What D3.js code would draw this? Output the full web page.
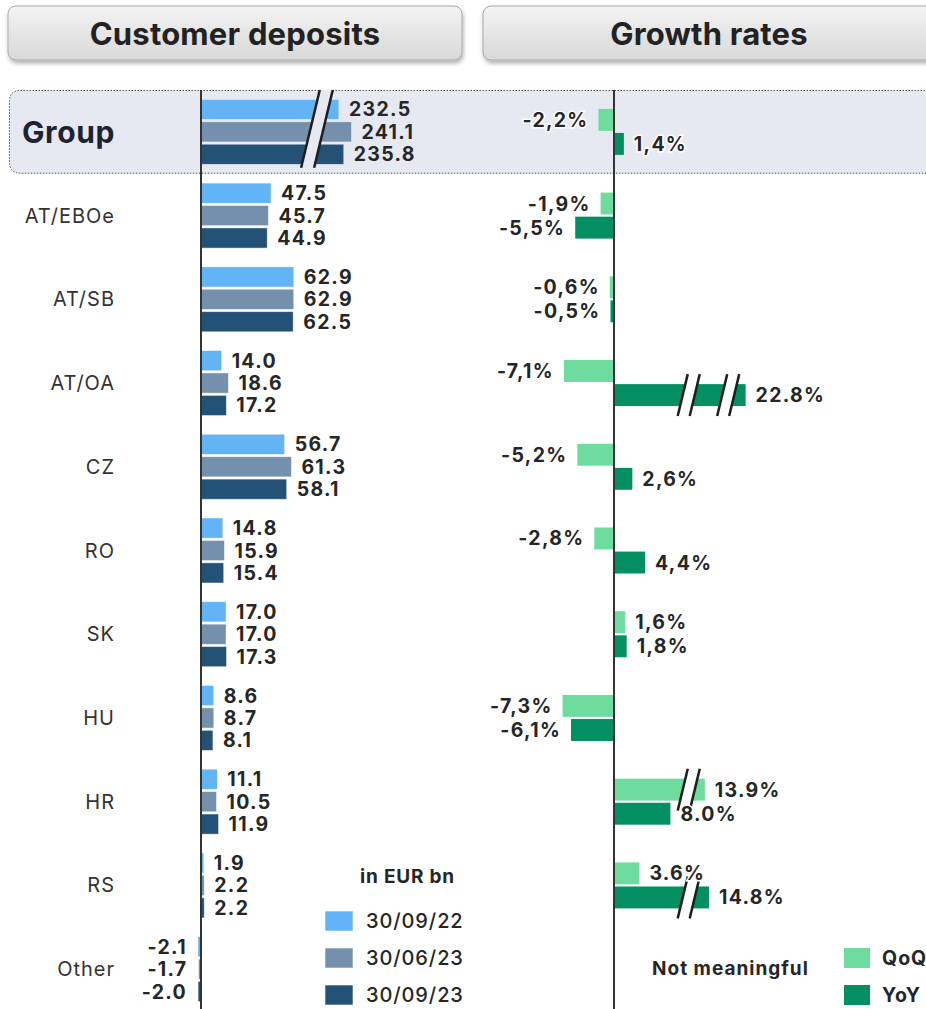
<!DOCTYPE html>
<html><head><meta charset="utf-8">
<script src="https://cdn.jsdelivr.net/npm/d3@7"></script>
<style>
html,body{margin:0;padding:0;background:#fff;}
svg{display:block;font-family:Inter,"Noto Sans",sans-serif;}
</style></head>
<body><svg id="c" width="926" height="1009"></svg>
<script>
const categories = ["Group","AT/EBOe","AT/SB","AT/OA","CZ","RO","SK","HU","HR","RS","Other"];
const seriesNames = ["30/09/22","30/06/23","30/09/23"];
const dep2209 = [232.5,47.5,62.9,14.0,56.7,14.8,17.0,8.6,11.1,1.9,-2.1];
const dep2306 = [241.1,45.7,62.9,18.6,61.3,15.9,17.0,8.7,10.5,2.2,-1.7];
const dep2309 = [235.8,44.9,62.5,17.2,58.1,15.4,17.3,8.1,11.9,2.2,-2.0];
const growthNames = ["QoQ","YoY"];
const qoq = [-2.2,-1.9,-0.6,-7.1,-5.2,-2.8,1.6,-7.3,13.9,3.6,null];
const yoy = [1.4,-5.5,-0.5,22.8,2.6,4.4,1.8,-6.1,8.0,14.8,null];
const qoqLabels = ["-2,2%","-1,9%","-0,6%","-7,1%","-5,2%","-2,8%","1,6%","-7,3%","13.9%","3.6%",null];
const yoyLabels = ["1,4%","-5,5%","-0,5%","22.8%","2,6%","4,4%","1,8%","-6,1%","8.0%","14.8%",null];

const depColors = ["#63b3f7","#7590ac","#245277"];
const grColors = ["#6edb9f","#038f61"];
const groupBg = "#e6e9f1";
const textCol = "#262626";

const svg = d3.select("#c");
const defs = svg.append("defs");
const grad = defs.append("linearGradient").attr("id","hdr").attr("x1",0).attr("y1",0).attr("x2",0).attr("y2",1);
grad.append("stop").attr("offset","0%").attr("stop-color","#f3f3f3");
grad.append("stop").attr("offset","100%").attr("stop-color","#d8d8d8");
const sh = defs.append("filter").attr("id","sh").attr("x","-5%").attr("y","-20%").attr("width","110%").attr("height","150%");
sh.append("feDropShadow").attr("dx",1).attr("dy",3).attr("stdDeviation",2).attr("flood-color","#000").attr("flood-opacity",0.3);

// headers
const headers = [{t:"Customer deposits",x:8,w:454,cx:235},{t:"Growth rates",x:483,w:460,cx:709}];
headers.forEach(h=>{
  svg.append("rect").attr("x",h.x).attr("y",6).attr("width",h.w).attr("height",54).attr("rx",8)
    .attr("fill","url(#hdr)").attr("stroke","#a9a9a9").attr("stroke-width",1).attr("filter","url(#sh)");
  svg.append("text").attr("x",h.cx).attr("y",33).attr("text-anchor","middle").attr("dominant-baseline","central")
    .attr("font-size",31).attr("font-weight",700).attr("letter-spacing",0.2).attr("fill","#222").text(h.t);
});

// scales
const y = d3.scaleBand().domain(categories).range([90,1011]);
const depSub = d3.scaleBand().domain(d3.range(3)).paddingInner(0.1);
const grSub = d3.scaleBand().domain(d3.range(2)).paddingInner(0.09);
const xDep = d3.scaleLinear().domain([0,100]).range([201,348.5]);
const depOffset = 139; // scale-break offset for group
const depDisp = v => v > 150 ? v - depOffset : v;
const xGr = d3.scaleLinear().domain([0,10]).range([614,684.5]);
const knee = 11, comp = 0.65;
const grDisp = v => v > knee ? knee + (v-knee)*comp : v;
const grBreaks = [10.6,16.2];

// group background
const gTop = y("Group"), gBot = y("Group")+y.bandwidth();
svg.append("path").attr("d",()=>{
  const x0=9.5,y0=gTop+0.5,y1=gBot-0.5,r=11,x1=940;
  return `M${x1},${y0}L${x0+r},${y0}Q${x0},${y0} ${x0},${y0+r}L${x0},${y1-r}Q${x0},${y1} ${x0+r},${y1}L${x1},${y1}`;
}).attr("fill",groupBg).attr("stroke","#555").attr("stroke-width",1).attr("stroke-dasharray","1.5,1.5");

// category labels
svg.selectAll("text.cat").data(categories).join("text").attr("class","cat")
  .attr("x",d=>d==="Group"?22:115).attr("y",d=>y(d)+y.bandwidth()/2)
  .attr("text-anchor",d=>d==="Group"?"start":"end").attr("dominant-baseline","central")
  .attr("font-size",d=>d==="Group"?30:20).attr("font-weight",d=>d==="Group"?700:400)
  .attr("letter-spacing",d=>d==="Group"?0.6:1)
  .attr("fill",d=>d==="Group"?"#1f2230":"#333").text(d=>d);

// deposit bars
const depSeries = [dep2209,dep2306,dep2309];
const depG = svg.append("g");
const depL = svg.append("g");
categories.forEach((c,i)=>{
  const cy = y(c)+y.bandwidth()/2;
  depSub.range([cy-32.5,cy+32.5]);
  depSeries.forEach((s,k)=>{
    const v = s[i], dv = depDisp(v);
    const x0 = xDep(Math.min(0,dv)), x1 = xDep(Math.max(0,dv));
    depG.append("rect").attr("x",x0).attr("y",depSub(k)).attr("width",Math.max(1,x1-x0)).attr("height",depSub.bandwidth())
      .attr("fill",depColors[k]).attr("stroke","#fff").attr("stroke-opacity",0.6).attr("stroke-width",0.8);
    depL.append("text").attr("x",v>=0?xDep(dv)+10:xDep(dv)-11).attr("y",depSub(k)+depSub.bandwidth()/2)
      .attr("text-anchor",v>=0?"start":"end").attr("dominant-baseline","central")
      .attr("font-size",19.5).attr("font-weight",700).attr("letter-spacing",1.3).attr("fill",textCol)
      .text(v.toFixed(1));
  });
});

// break drawing
function breakMark(g, cx, yT, yB, gap, bg){
  const s = 0.24, h = yB-yT;
  const a = cx + h*s/2, b = cx - h*s/2;
  g.append("path").attr("d",`M${a-gap/2},${yT}L${a+gap/2},${yT}L${b+gap/2},${yB}L${b-gap/2},${yB}Z`).attr("fill",bg);
  [-gap/2,gap/2].forEach(o=>{
    g.append("line").attr("x1",a+o).attr("y1",yT).attr("x2",b+o).attr("y2",yB)
      .attr("stroke","#1e1e1e").attr("stroke-width",2.5);
  });
}
// group scale break on deposits
breakMark(depG, xDep(78.6), gTop, gBot-6, 13, groupBg);

// growth bars
const grSeries = [qoq,yoy], grLab = [qoqLabels,yoyLabels];
const grG = svg.append("g");
const grL = svg.append("g");
categories.forEach((c,i)=>{
  const cy = y(c)+y.bandwidth()/2;
  grSub.range([cy-23,cy+23]);
  grSeries.forEach((s,k)=>{
    const v = s[i];
    if (v===null) return;
    const dv = grDisp(v);
    const x0 = xGr(Math.min(0,dv)), x1 = xGr(Math.max(0,dv));
    const by = grSub(k), bh = grSub.bandwidth();
    grG.append("rect").attr("x",x0).attr("y",by).attr("width",Math.max(1,x1-x0)).attr("height",bh)
      .attr("fill",grColors[k]);
    grBreaks.filter(b=>dv>b+1).forEach(b=>{
      breakMark(grG, xGr(b), by-10, by+bh+10, 12, "#fff");
    });
    grL.append("text").attr("x",v>=0?xGr(dv)+10:xGr(dv)-10).attr("y",by+bh/2)
      .attr("text-anchor",v>=0?"start":"end").attr("dominant-baseline","central")
      .attr("font-size",19.5).attr("font-weight",700).attr("letter-spacing",1.3).attr("fill",textCol)
      .attr("stroke","#fff").attr("stroke-width",3).attr("paint-order","stroke")
      .text(grLab[k][i]);
  });
});

// axes (zero lines)
svg.append("line").attr("x1",xDep(0)).attr("x2",xDep(0)).attr("y1",gTop).attr("y2",1009).attr("stroke","#333").attr("stroke-width",2);
svg.append("line").attr("x1",xGr(0)).attr("x2",xGr(0)).attr("y1",gTop).attr("y2",1009).attr("stroke","#333").attr("stroke-width",2);

// deposits legend
svg.append("text").attr("x",360).attr("y",876).attr("dominant-baseline","central").attr("font-size",19)
  .attr("font-weight",700).attr("letter-spacing",0.8).attr("fill",textCol).text("in EUR bn");
const lg = svg.append("g");
seriesNames.forEach((n,k)=>{
  const ly = 921 + k*37;
  lg.append("rect").attr("x",325).attr("y",ly-10).attr("width",28).attr("height",20).attr("fill",depColors[k])
    .attr("stroke","#fff").attr("stroke-opacity",0.6);
  lg.append("text").attr("x",366).attr("y",ly).attr("dominant-baseline","central").attr("font-size",20)
    .attr("font-weight",500).attr("letter-spacing",0.9).attr("fill",textCol).text(n);
});

// growth legend
const oy = y("Other")+y.bandwidth()/2;
svg.append("text").attr("x",652).attr("y",oy-1).attr("dominant-baseline","central").attr("font-size",19)
  .attr("font-weight",700).attr("letter-spacing",1).attr("fill",textCol).text("Not meaningful");
growthNames.forEach((n,k)=>{
  const ly = 958 + k*37;
  svg.append("rect").attr("x",844).attr("y",ly-10).attr("width",26).attr("height",20).attr("fill",grColors[k]);
  svg.append("text").attr("x",882).attr("y",ly).attr("dominant-baseline","central").attr("font-size",19.5)
    .attr("font-weight",700).attr("letter-spacing",1).attr("fill",textCol).text(n);
});
</script></body></html>
